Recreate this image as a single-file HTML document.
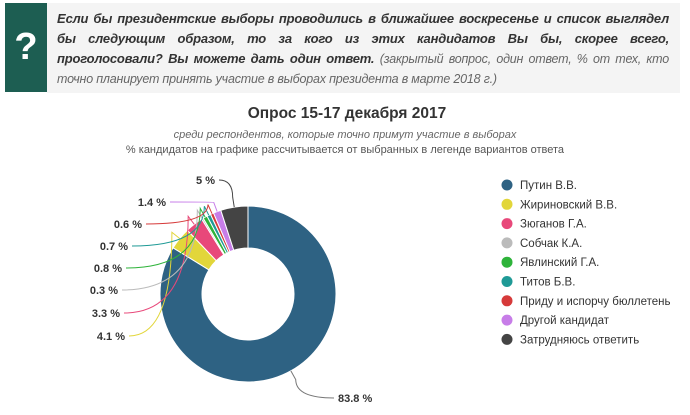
<!DOCTYPE html>
<html><head><meta charset="utf-8"><style>
body{margin:0;width:690px;height:415px;background:#fff;overflow:hidden;font-family:"Liberation Sans","DejaVu Sans",sans-serif;position:relative}
.q{position:absolute;left:5px;top:3px;width:42px;height:89px;background:#1d5e52;color:#fff;font-weight:bold;font-size:38px;text-align:center;line-height:89px}
.bx{position:absolute;left:47px;top:3px;width:633px;height:90px;background:#f4f4f4}
.tx{position:absolute;left:57px;top:9px;width:612px;font-size:13px;line-height:20px;font-style:italic;text-align:justify;color:#333;letter-spacing:-0.2px}
.tx b{color:#333}
.tx span{color:#666;font-size:12.5px}
</style></head><body>
<div class="bx"></div><div class="q">?</div>
<div class="tx"><b>Если бы президентские выборы проводились в ближайшее воскресенье и список выглядел бы следующим образом, то за кого из этих кандидатов Вы бы, скорее всего, проголосовали? Вы можете дать один ответ.</b> <span>(закрытый вопрос, один ответ, % от тех, кто точно планирует принять участие в выборах президента в марте 2018 г.)</span></div>
<svg id="s" width="690" height="415" style="position:absolute;left:0;top:0" font-family="Liberation Sans, DejaVu Sans, sans-serif">
<text x="347" y="118" text-anchor="middle" font-size="15.5" font-weight="bold" fill="#333">Опрос 15-17 декабря 2017</text>
<text x="345" y="138" text-anchor="middle" font-size="11" font-style="italic" fill="#666">среди респондентов, которые точно примут участие в выборах</text>
<text x="345" y="153" text-anchor="middle" font-size="11" fill="#555">% кандидатов на графике рассчитывается от выбранных в легенде вариантов ответа</text>
<g id="pie"></g>
</svg>
<script>
var d=[[83.8,"#2e6283","Путин В.В."],[4.1,"#e2d63a","Жириновский В.В."],[3.3,"#e8487a","Зюганов Г.А."],[0.3,"#bbbbbb","Собчак К.А."],[0.8,"#2eb33a","Явлинский Г.А."],[0.7,"#1f9a96","Титов Б.В."],[0.6,"#d63a3a","Приду и испорчу бюллетень"],[1.4,"#c77de8","Другой кандидат"],[5,"#444444","Затрудняюсь ответить"]];
var lab=[[338,402,"start"],[125,340,"end"],[120,317,"end"],[118,294,"end"],[122,272,"end"],[128,250,"end"],[142,228,"end"],[166,206,"end"],[215,184,"end"]];
var cx=248,cy=294,R=88,r=46,a=0,g=document.getElementById("pie"),h="";
function P(rad,t){return [cx+rad*Math.sin(t),cy-rad*Math.cos(t)];}
d.forEach(function(e,i){var a1=a+e[0]/100*2*Math.PI,m=(a+a1)/2,L=(a1-a)>Math.PI?1:0;
var p1=P(R,a),p2=P(R,a1),p3=P(r,a1),p4=P(r,a);
h+='<path d="M'+p1+' A'+R+' '+R+' 0 '+L+' 1 '+p2+' L'+p3+' A'+r+' '+r+' 0 '+L+' 0 '+p4+'Z" fill="'+e[1]+'" stroke="#fff" stroke-width="1"/>';
var q=P(R,m),q2=P(R+10,m),lb=lab[i];var ex=lb[2]=="end"?lb[0]+4:lb[0]-4;
h+='<path d="M'+q+' L'+q2+' Q'+q2[0]+' '+(lb[1]-4)+' '+ex+' '+(lb[1]-4)+'" fill="none" stroke="'+(i==0?"#777":e[1])+'" stroke-width="1"/>';
h+='<text x="'+lb[0]+'" y="'+lb[1]+'" text-anchor="'+lb[2]+'" font-size="11" font-weight="bold" fill="#333">'+e[0]+' %</text>';
h+='<circle cx="507" cy="'+(185+i*19.3)+'" r="5.5" fill="'+e[1]+'"/><text x="520" y="'+(189+i*19.3)+'" font-size="11.5" fill="#333">'+e[2]+'</text>';
a=a1;});
g.innerHTML=h;
</script>
</body></html>
